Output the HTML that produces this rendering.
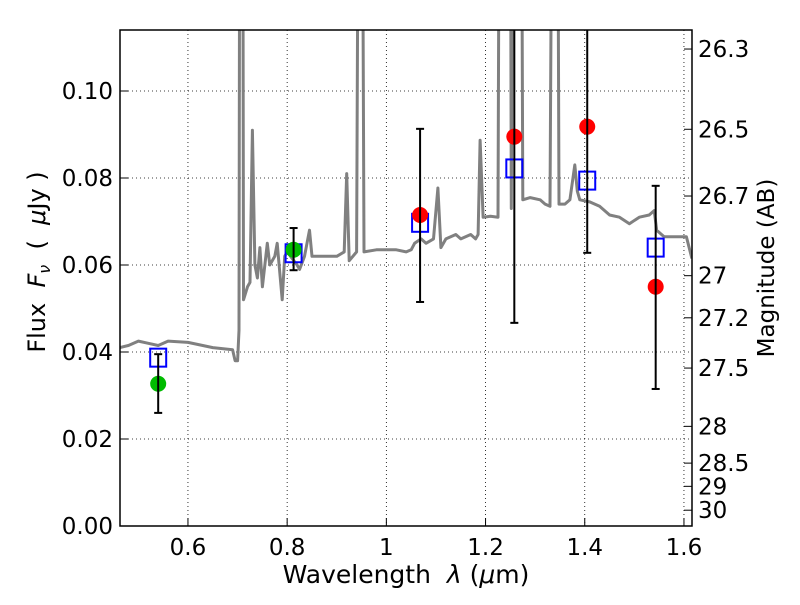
<!DOCTYPE html>
<html><head><meta charset="utf-8"><style>
body{margin:0;background:#fff}
svg text{font-family:"DejaVu Sans","Liberation Sans",sans-serif;fill:#000}
</style></head><body>
<svg id="chart" width="800" height="600" viewBox="0 0 800 600" xmlns="http://www.w3.org/2000/svg">
<defs><clipPath id="clip"><rect x="120" y="30" width="572" height="496"/></clipPath></defs>
<rect x="0" y="0" width="800" height="600" fill="#fff"/>
<g id="grid"></g>
<g id="spec" clip-path="url(#clip)"></g>
<g id="marks" clip-path="url(#clip)"></g>
<rect x="120" y="30" width="572" height="496" fill="none" stroke="#000" stroke-width="1.5"/>
<g id="axes"></g>
<text x="406" y="583" font-size="25" text-anchor="middle" xml:space="preserve">Wavelength  <tspan font-style="italic">λ</tspan> (<tspan font-style="italic">μ</tspan>m)</text>
<text transform="translate(45,262) rotate(-90)" font-size="24" text-anchor="middle" xml:space="preserve">Flux  <tspan font-style="italic">F</tspan><tspan font-style="italic" font-size="16" dy="5">ν</tspan><tspan dy="-5">  (  </tspan><tspan font-style="italic">μ</tspan>Jy )</text>
<text transform="translate(774,268) rotate(-90)" font-size="23" text-anchor="middle">Magnitude (AB)</text>
</svg>
<script>
const xTicks=[0.6,0.8,1.0,1.2,1.4,1.6];
const xTickLabels=["0.6","0.8","1","1.2","1.4","1.6"];
const yTicks=[0,0.02,0.04,0.06,0.08,0.10];
const yTickLabels=["0.00","0.02","0.04","0.06","0.08","0.10"];
const magTicks=[26.3,26.5,26.7,27,27.2,27.5,28,28.5,29,30];
const magLabels=["26.3","26.5","26.7","27","27.2","27.5","28","28.5","29","30"];
const specWave=[0.463,0.48,0.50,0.52,0.54,0.56,0.60,0.65,0.69,0.695,0.70,0.703,0.705,0.71,0.712,0.72,0.725,0.73,0.735,0.74,0.745,0.75,0.76,0.765,0.775,0.78,0.79,0.795,0.80,0.82,0.825,0.835,0.845,0.85,0.87,0.90,0.915,0.92,0.925,0.94,0.945,0.95,0.955,0.98,1.0,1.02,1.04,1.05,1.057,1.07,1.08,1.095,1.104,1.11,1.12,1.14,1.15,1.17,1.18,1.185,1.189,1.195,1.21,1.225,1.229,1.249,1.252,1.256,1.271,1.275,1.29,1.31,1.32,1.33,1.336,1.344,1.348,1.36,1.37,1.38,1.385,1.39,1.41,1.43,1.45,1.47,1.49,1.51,1.53,1.54,1.545,1.56,1.59,1.605,1.616];
const specFlux=[0.041,0.0415,0.0425,0.042,0.0415,0.0425,0.0422,0.041,0.0405,0.038,0.038,0.045,0.2,0.2,0.052,0.055,0.056,0.091,0.060,0.057,0.064,0.055,0.065,0.060,0.062,0.065,0.052,0.062,0.063,0.060,0.059,0.062,0.068,0.062,0.062,0.062,0.063,0.081,0.061,0.063,0.2,0.2,0.063,0.0635,0.0635,0.0635,0.063,0.0635,0.065,0.066,0.065,0.066,0.0777,0.064,0.066,0.067,0.066,0.067,0.066,0.067,0.0887,0.071,0.0712,0.071,0.2,0.2,0.073,0.2,0.2,0.075,0.0755,0.075,0.074,0.0735,0.2,0.2,0.074,0.074,0.075,0.083,0.077,0.075,0.0745,0.0735,0.0715,0.071,0.0695,0.071,0.0715,0.0725,0.068,0.0665,0.0665,0.0665,0.0615];
const obsWave=[0.54,0.813,1.068,1.258,1.405,1.543];
const obsFlux=[0.0327,0.0635,0.0715,0.0895,0.0918,0.055];
const obsLow=[0.026,0.0588,0.0515,0.0467,0.0628,0.0315];
const obsHigh=[0.0395,0.0685,0.0913,0.13,0.13,0.0782];
const obsColor=["#00bb00","#00bb00","#ff0000","#ff0000","#ff0000","#ff0000"];
const modelFlux=[0.0387,0.0627,0.0697,0.0822,0.0794,0.064];
const X=v=>120+(v-0.463)*496;
const Y=v=>526-v*4350;
const NS="http://www.w3.org/2000/svg";
function mk(tag,attrs,parent){const e=document.createElementNS(NS,tag);for(const k in attrs)e.setAttribute(k,attrs[k]);parent.appendChild(e);return e;}
const grid=document.getElementById('grid'),axes=document.getElementById('axes');
xTicks.forEach((t,i)=>{
  const g=mk('line',{x1:X(t),x2:X(t),y1:30,y2:526,stroke:'#000','stroke-width':0.8,'stroke-dasharray':'1,3'},grid);
  
  
  const tk=mk('line',{x1:X(t),x2:X(t),y1:526,y2:518,stroke:'#000'},axes);
  
  
  const tx=mk('text',{x:X(t),y:555,'font-size':23,'text-anchor':'middle'},axes);
  tx.textContent=xTickLabels[i];
  
  
});
yTicks.forEach((t,i)=>{
  const g=mk('line',{x1:120,x2:692,y1:Y(t),y2:Y(t),stroke:'#000','stroke-width':0.8,'stroke-dasharray':'1,3'},grid);
  
  
  const tk=mk('line',{x1:120,x2:128,y1:Y(t),y2:Y(t),stroke:'#000'},axes);
  
  
  const tx=mk('text',{x:113,y:Y(t)+8,'font-size':23,'text-anchor':'end'},axes);
  tx.textContent=yTickLabels[i];
  
  
});
magTicks.forEach((m,i)=>{
  const f=Math.pow(10,(23.9-m)/2.5);
  const tk=mk('line',{x1:684,x2:692,y1:Y(f),y2:Y(f),stroke:'#000'},axes);
  
  
  const tx=mk('text',{x:698,y:Y(f)+8,'font-size':23},axes);
  tx.textContent=magLabels[i];
  
  
});
const spec=document.getElementById('spec');
const pts=specWave.map((w,i)=>X(w).toFixed(1)+','+Y(specFlux[i]).toFixed(1)).join(' ');
const pl=mk('polyline',{points:pts,fill:'none',stroke:'#808080','stroke-width':3,'stroke-linejoin':'round'},spec);


const marks=document.getElementById('marks');
obsWave.forEach((w,i)=>{
  const x=X(w);
  const sq=mk('rect',{x:x-8,y:Y(modelFlux[i])-9,width:16,height:18,fill:'none',stroke:'#0000ff','stroke-width':2},marks);
  
  
  const c=mk('circle',{cx:x,cy:Y(obsFlux[i]),r:8,fill:obsColor[i]},marks);
  
  
  const eb=mk('g',{stroke:'#000','stroke-width':2},marks);
  
  
  mk('line',{x1:x,x2:x,y1:Y(obsLow[i]),y2:Y(obsHigh[i])},eb);
  mk('line',{x1:x-4,x2:x+4,y1:Y(obsLow[i]),y2:Y(obsLow[i])},eb);
  mk('line',{x1:x-4,x2:x+4,y1:Y(obsHigh[i]),y2:Y(obsHigh[i])},eb);
});
</script>
</body></html>
